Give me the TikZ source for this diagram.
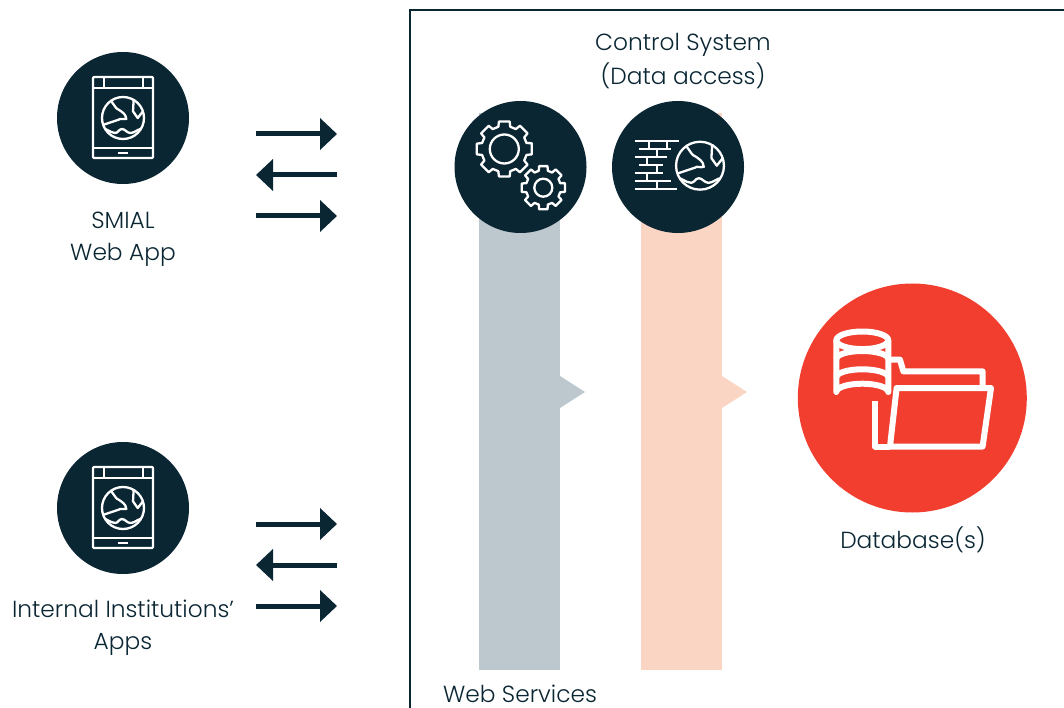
\documentclass[tikz,border=0pt]{standalone}
\usepackage{fontspec}
\setmainfont{Poppins Light}
\usetikzlibrary{arrows.meta}

\definecolor{navy}{HTML}{0A2633}
\definecolor{barGray}{HTML}{BDC8CE}
\definecolor{barPeach}{HTML}{FBD5C3}
\definecolor{dbRed}{HTML}{F13E2F}

\tikzset{
  disc/.style={circle, fill=navy, draw=none, inner sep=0pt, minimum size=132pt},
  caption/.style={font=\fontsize{23.3}{23.3}\selectfont, text=navy, anchor=base, inner sep=0pt},
  flow/.style={navy, line width=5pt, -{Triangle[length=17pt, width=31pt]}},
  icon/.style={white, line width=2.3pt, line join=round},
  dbline/.style={white, line width=6pt, line join=round},
  globe/.pic={
    \draw[icon] (0,0) circle [radius=21];
    \draw[icon] (-11.7,-16.7) .. controls (-8,-12) and (-7,-9) .. (-4.3,-8.3)
      .. controls (-1,-6) and (3,-4) .. (3.3,1)
      .. controls (0,2) and (-3,0) .. (-4.3,1.7) -- (-19.3,6.7);
    \draw[icon] (10.7,-19) -- (10,-6.7) -- (14.7,0) -- (20,-6.7);
    \draw[icon] (-17.7,11) .. controls (-12,14) and (-10,15) .. (-7.7,15)
      .. controls (-5,15) and (-4,11) .. (-1,11)
      .. controls (2,11) and (4,15) .. (7.3,15)
      .. controls (11,15) and (14,12) .. (17.3,11);
  },
  tablet/.pic={
    \draw[icon, rounded corners=1pt] (-30,-41) rectangle (30,40);
    \draw[icon] (-30,-30) -- (30,-30);
    \draw[icon] (-30,30) -- (30,30);
    \draw[icon] (-19,-41) -- (-19,-30);
    \draw[icon] (20,-41) -- (20,-30);
    \draw[icon] (-5,35) -- (5,35);
    \pic {globe};
  },
  gear/.pic={
    \draw[icon] (0,0) circle [radius=\gearhole];
    \draw[icon] (-12:\gearout)
      \foreach \a in {0,45,...,315} {
        -- ({\a-11}:\gearout) -- ({\a+11}:\gearout) -- ({\a+15}:\gearin) -- ({\a+30}:\gearin)
      } -- cycle;
  }
}

\begin{document}
\begin{tikzpicture}[x=1pt, y=-1pt]
  \useasboundingbox (0,0) rectangle (1064,708);

  % frame
  \coordinate (frameA) at (1064,10);
  \coordinate (frameB) at (410,10);
  \coordinate (frameC) at (410,708);
  \draw[navy, line width=2.5pt] (frameA) -- (frameB) -- (frameC);

  % bars
  \fill[barGray] (479,113) rectangle (560,670);
  \fill[barGray] (560,376) -- (585,392) -- (560,408) -- cycle;
  \fill[barPeach] (641,113) rectangle (722,670);
  \fill[barPeach] (722,376) -- (747,392) -- (722,408) -- cycle;

  % apps
  \node[disc] (smial) at (123,118) {};
  \pic at (smial.center) {tablet};
  \node[caption] (smialA) at (123,228.5) {SMIAL};
  \node[caption] (smialB) at (123,261) {Web App};

  \node[disc] (inst) at (123,508) {};
  \pic at (inst.center) {tablet};
  \node[caption] (instA) at (123,617) {Internal Institutions’};
  \node[caption] (instB) at (123,649) {Apps};

  % arrows
  \foreach \y/\name in {134/a,216/c,524/d,606/f} {
    \coordinate (s\name) at (256,\y);
    \coordinate (t\name) at (337,\y);
    \draw[flow] (s\name) -- (t\name);
  }
  \foreach \y/\name in {175/b,565/e} {
    \coordinate (s\name) at (337,\y);
    \coordinate (t\name) at (256,\y);
    \draw[flow] (s\name) -- (t\name);
  }

  % web services
  \node[disc] (web) at (520.5,167) {};
  \def\gearout{28}\def\gearin{23}\def\gearhole{14.5}
  \pic at (504.3,149) {gear};
  \def\gearout{22}\def\gearin{17.5}\def\gearhole{9}
  \pic at (543.3,187.7) {gear};
  \node[caption] (webA) at (520,702) {Web Services};

  % control system
  \node[disc] (ctrl) at (678,167) {};
  \begin{scope}[shift={(ctrl.center)}]
    \draw[icon] (-43.3,-26) -- (0.7,-26);
    \draw[icon] (-39.3,-18) -- (-7.3,-18);
    \draw[icon] (-43.3,-10) -- (-11.3,-10);
    \draw[icon] (-39.3,-2) -- (-14.7,-2);
    \draw[icon] (-43.3,6) -- (-14.7,6);
    \draw[icon] (-43.3,14) -- (-7.3,14);
    \draw[icon] (-43.3,22) -- (-1.3,22);
    \foreach \x/\y in {-29.3/-26,-11.3/-26,-21.3/-18,-31.3/-10,-21.3/-2,-31.3/6,-21.3/14} {
      \draw[icon] (\x,\y) -- (\x,\y+8);
    }
  \end{scope}
  \pic[scale=1.14] at (700,165.7) {globe};
  \node[caption] (ctrlA) at (683,51) {Control System};
  \node[caption] (ctrlB) at (683,85) {(Data access)};

  % database
  \node[circle, fill=dbRed, inner sep=0pt, minimum size=229pt] (db) at (912.3,398) {};
  \begin{scope}[shift={(db.center)}]
    \draw[dbline] (-37.3,3.3) -- (-37.3,48.5) -- (-22.3,48.5);
    \draw[dbline] (-22.3,-38.3) -- (-12.3,-38.3) -- (-9,-26.7) -- (70.3,-26.7) -- (70.3,-11.7);
    \draw[dbline] (-15.7,-10) -- (78.7,-10) -- (70.3,48.5) -- (-22.3,48.5) -- cycle;
    \draw[dbline, fill=dbRed] (-76,-57.7) -- (-76,-6) arc [start angle=180, end angle=360, x radius=26, y radius=8.3] -- (-24,-57.7);
    \draw[dbline, fill=dbRed] (-50,-57.7) ellipse [x radius=26, y radius=8.8];
    \draw[dbline] (-76,-39) arc [start angle=180, end angle=360, x radius=26, y radius=8];
    \draw[dbline] (-76,-20.7) arc [start angle=180, end angle=360, x radius=26, y radius=8];
  \end{scope}
  \node[caption] (dbA) at (913,548) {Database(s)};
\end{tikzpicture}
\end{document}
